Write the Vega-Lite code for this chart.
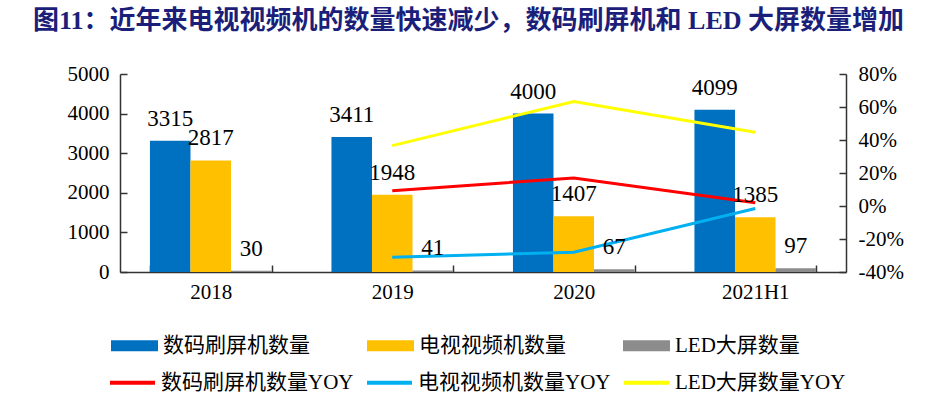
{
  "$schema": "https://vega.github.io/schema/vega-lite/v6.json",
  "width": 726,
  "height": 198,
  "autosize": "none",
  "padding": {"left": 120, "top": 74, "right": 99, "bottom": 121},
  "background": "white",
  "title": {
    "text": "图11：近年来电视视频机的数量快速减少，数码刷屏机和 LED 大屏数量增加",
    "anchor": "start",
    "frame": "group",
    "dx": -87,
    "offset": 29,
    "font": "Liberation Serif, Noto Sans CJK SC",
    "fontSize": 26,
    "fontWeight": "bold",
    "color": "#1B1F7A"
  },
  "config": {
    "view": {"stroke": null},
    "font": "Liberation Serif, Noto Sans CJK SC",
    "axis": {
      "labelFont": "Liberation Serif, Noto Sans CJK SC",
      "labelFontSize": 21,
      "labelColor": "#000000",
      "domainColor": "#333333",
      "domainWidth": 1.5,
      "tickColor": "#333333",
      "tickWidth": 1.5,
      "grid": false,
      "title": null
    }
  },
  "datasets": {
    "bars": [
      {"year": "2018", "series": "数码刷屏机数量", "value": 3315},
      {"year": "2018", "series": "电视视频机数量", "value": 2817},
      {"year": "2018", "series": "LED大屏数量", "value": 30},
      {"year": "2019", "series": "数码刷屏机数量", "value": 3411},
      {"year": "2019", "series": "电视视频机数量", "value": 1948},
      {"year": "2019", "series": "LED大屏数量", "value": 41},
      {"year": "2020", "series": "数码刷屏机数量", "value": 4000},
      {"year": "2020", "series": "电视视频机数量", "value": 1407},
      {"year": "2020", "series": "LED大屏数量", "value": 67},
      {"year": "2021H1", "series": "数码刷屏机数量", "value": 4099},
      {"year": "2021H1", "series": "电视视频机数量", "value": 1385},
      {"year": "2021H1", "series": "LED大屏数量", "value": 97}
    ],
    "yoy": [
      {"year": "2019", "series": "数码刷屏机数量YOY", "yoy": 0.093},
      {"year": "2020", "series": "数码刷屏机数量YOY", "yoy": 0.17},
      {"year": "2021H1", "series": "数码刷屏机数量YOY", "yoy": 0.02},
      {"year": "2019", "series": "电视视频机数量YOY", "yoy": -0.31},
      {"year": "2020", "series": "电视视频机数量YOY", "yoy": -0.28},
      {"year": "2021H1", "series": "电视视频机数量YOY", "yoy": -0.015},
      {"year": "2019", "series": "LED大屏数量YOY", "yoy": 0.366},
      {"year": "2020", "series": "LED大屏数量YOY", "yoy": 0.633},
      {"year": "2021H1", "series": "LED大屏数量YOY", "yoy": 0.447}
    ]
  },
  "encoding": {
    "x": {
      "field": "year",
      "type": "nominal",
      "sort": ["2018", "2019", "2020", "2021H1"],
      "scale": {"domain": ["2018", "2019", "2020", "2021H1"], "paddingInner": 0.33, "paddingOuter": 0.165},
      "axis": {"labelAngle": 0, "tickBand": "extent", "tickSize": -7, "labelPadding": 16}
    }
  },
  "layer": [
    {
      "data": {"name": "bars"},
      "mark": {"type": "bar"},
      "encoding": {
        "xOffset": {"field": "series", "type": "nominal", "sort": ["数码刷屏机数量", "电视视频机数量", "LED大屏数量"], "scale": {"paddingInner": 0, "paddingOuter": 0}},
        "y": {
          "field": "value",
          "type": "quantitative",
          "scale": {"domain": [0, 5000], "nice": false},
          "axis": {"values": [0, 1000, 2000, 3000, 4000, 5000], "format": "d", "tickSize": -7, "labelPadding": 18}
        },
        "fill": {
          "field": "series",
          "type": "nominal",
          "scale": {"domain": ["数码刷屏机数量", "电视视频机数量", "LED大屏数量"], "range": ["#0070C0", "#FFC000", "#8C8C8C"]},
          "legend": {
            "orient": "none",
            "legendX": -9,
            "legendY": 248,
            "direction": "horizontal",
            "title": null,
            "symbolType": "M-1,-0.23H1V0.23H-1Z",
            "symbolSize": 2209,
            "symbolStrokeWidth": 0,
            "labelFont": "Liberation Serif, Noto Sans CJK SC",
            "labelFontSize": 21,
            "labelColor": "#000000",
            "labelOffset": 5,
            "columnPadding": 57,
            "labelLimit": 400
          }
        }
      }
    },
    {
      "data": {"name": "yoy"},
      "mark": {"type": "line", "strokeWidth": 3},
      "encoding": {
        "y": {
          "field": "yoy",
          "type": "quantitative",
          "scale": {"domain": [-0.4, 0.8], "nice": false},
          "axis": {"orient": "right", "values": [-0.4, -0.2, 0, 0.2, 0.4, 0.6, 0.8], "labelExpr": "round(datum.value*100) + '%'", "tickSize": -7, "labelPadding": 19}
        },
        "stroke": {
          "field": "series",
          "type": "nominal",
          "scale": {"domain": ["数码刷屏机数量YOY", "电视视频机数量YOY", "LED大屏数量YOY"], "range": ["#FF0000", "#00B0F0", "#FFFF00"]},
          "legend": {
            "orient": "none",
            "legendX": -12,
            "legendY": 284,
            "direction": "horizontal",
            "title": null,
            "symbolType": "M-1,0H1",
            "symbolSize": 2025,
            "symbolStrokeWidth": 4,
            "labelFont": "Liberation Serif, Noto Sans CJK SC",
            "labelFontSize": 21,
            "labelColor": "#000000",
            "labelOffset": 4,
            "columnPadding": 5,
            "labelLimit": 400
          }
        }
      }
    },
    {
      "data": {"name": "bars"},
      "mark": {"type": "text", "baseline": "alphabetic", "dy": -15, "fontSize": 23, "font": "Liberation Serif", "color": "#000000"},
      "encoding": {
        "xOffset": {"field": "series", "type": "nominal", "sort": ["数码刷屏机数量", "电视视频机数量", "LED大屏数量"], "scale": {"paddingInner": 0, "paddingOuter": 0}},
        "y": {"field": "value", "type": "quantitative", "scale": {"domain": [0, 5000], "nice": false}, "axis": null},
        "text": {"field": "value", "type": "quantitative"}
      }
    }
  ],
  "resolve": {"scale": {"y": "independent"}}
}
